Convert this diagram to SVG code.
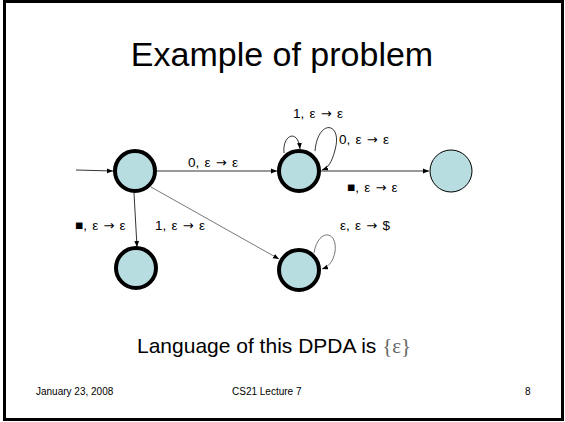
<svg xmlns="http://www.w3.org/2000/svg" width="565" height="422" viewBox="0 0 565 422">
  <style>
    .frame { fill: #ffffff; stroke: #000000; stroke-width: 3; }
    .title { font-family: "Liberation Sans", Arial, sans-serif; font-size: 34px; fill: #000000; text-anchor: middle; }
    .lbl { font-family: "Liberation Sans", Arial, sans-serif; font-size: 13.5px; fill: #000000; word-spacing: 1.5px; }
    .ar { font-family: "DejaVu Sans", sans-serif; font-size: 13px; }
    .note { font-family: "Liberation Sans", Arial, sans-serif; font-size: 21px; fill: #000000; }
    .set { font-family: "Liberation Serif", "Times New Roman", serif; fill: #666666; }
    .foot { font-family: "Liberation Sans", Arial, sans-serif; font-size: 10px; fill: #000000; }
    .state { fill: #b7dde1; stroke: #000000; stroke-width: 4; }
    .state.final { stroke-width: 1; }
    .edge { fill: none; stroke: #000000; stroke-width: 0.8; marker-end: url(#arrow); }
    .edge.light { stroke: #555555; }
  </style>
  <defs>
    <marker id="arrow" viewBox="0 0 10 10" refX="10" refY="5" markerWidth="6" markerHeight="6" markerUnits="userSpaceOnUse" orient="auto">
      <path d="M0,1 L10,5 L0,9 z" fill="#000000"/>
    </marker>
  </defs>

  <rect class="frame" x="4.5" y="1.5" width="558" height="418"/>

  <text class="title" x="282" y="66">Example of problem</text>

  <!-- transitions -->
  <g id="connectors">
    <path class="edge" d="M76,170 L113,171"/>
    <path class="edge" d="M157,171 L277,171"/>
    <path class="edge" d="M321,171 L429,171"/>
    <path class="edge" d="M134,193 L137,247"/>
    <path class="edge light" d="M151,187 L279,259"/>
    <!-- loops on middle state -->
    <path class="edge" d="M284,153 C282,135 298,128 300,149"/>
    <path class="edge" d="M315,151 C318,118 343,122 335,150 C332,162 328,168 322,170"/>
    <!-- loop on lower middle state -->
    <path class="edge light" d="M314,253 C318,228 338,230 335,252 C333,262 328,267 322,269"/>
  </g>

  <g id="labels">
    <text class="lbl" x="188" y="167">0, ε <tspan class="ar">→</tspan> ε</text>
    <text class="lbl" x="293" y="118">1, ε <tspan class="ar">→</tspan> ε</text>
    <text class="lbl" x="339" y="144">0, ε <tspan class="ar">→</tspan> ε</text>
    <text class="lbl" x="347" y="192">■, ε <tspan class="ar">→</tspan> ε</text>
    <text class="lbl" x="75" y="230">■, ε <tspan class="ar">→</tspan> ε</text>
    <text class="lbl" x="155" y="230">1, ε <tspan class="ar">→</tspan> ε</text>
    <text class="lbl" x="340" y="230">ε, ε <tspan class="ar">→</tspan> $</text>
  </g>

  <g id="q0"><circle class="state" cx="135" cy="171" r="20"/></g>
  <g id="q1"><circle class="state" cx="299" cy="171" r="20"/></g>
  <g id="q2"><circle class="state final" cx="451" cy="171" r="21"/></g>
  <g id="q3"><circle class="state" cx="136" cy="268" r="20"/></g>
  <g id="q4"><circle class="state" cx="299" cy="270" r="20"/></g>

  <text class="note" x="137" y="353">Language of this DPDA is <tspan class="set">{ε}</tspan></text>

  <text class="foot" x="36" y="395">January 23, 2008</text>
  <text class="foot" x="232" y="395">CS21 Lecture 7</text>
  <text class="foot" x="525" y="395">8</text>
</svg>
